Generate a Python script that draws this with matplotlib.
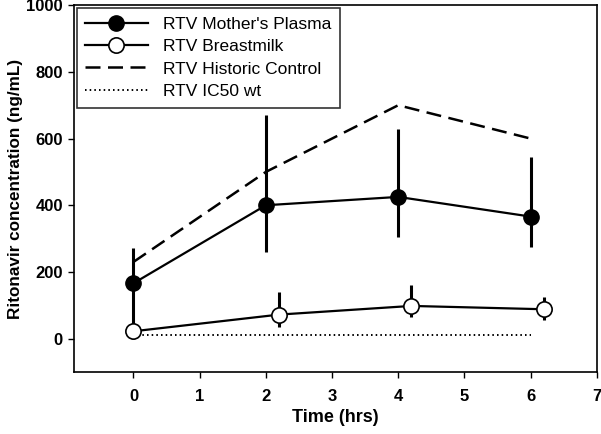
import matplotlib.pyplot as plt

plt.rcParams['font.family'] = ['Liberation Sans', 'DejaVu Sans']

# Mother's plasma
t_plasma = [0, 2, 4, 6]
plasma = [166, 400, 425, 366]
plasma_lo = [0, 261, 306, 276]
plasma_hi = [273, 672, 630, 546]

# Breastmilk (offset slightly in time)
t_milk = [0, 2.2, 4.2, 6.2]
milk = [22, 72, 98, 88]
milk_lo = [22, 36, 66, 57]
milk_hi = [22, 141, 162, 126]

# historic control and IC50
t_hist = [0, 2, 4, 6]
hist = [230, 500, 700, 600]
t_ic50 = [0, 6]
ic50 = [10, 10]

plasma_err = [[v - lo for v, lo in zip(plasma, plasma_lo)],
              [hi - v for v, hi in zip(plasma, plasma_hi)]]
milk_err = [[v - lo for v, lo in zip(milk, milk_lo)],
            [hi - v for v, hi in zip(milk, milk_hi)]]

fig = plt.figure(figsize=(6.01, 4.34), dpi=100)
ax = fig.add_axes([0.123, 0.143, 0.870, 0.845])

ax.errorbar(t_plasma, plasma, yerr=plasma_err, fmt='none', ecolor='black',
            elinewidth=2.2, capsize=0, zorder=2)
ax.errorbar(t_milk, milk, yerr=milk_err, fmt='none', ecolor='black',
            elinewidth=2.2, capsize=0, zorder=2)
h1, = ax.plot(t_plasma, plasma, '-o', color='black', mfc='black', mec='black',
              ms=11, lw=1.6, zorder=3)
h2, = ax.plot(t_milk, milk, '-o', color='black', mfc='white', mec='black',
              ms=11, mew=1.2, lw=1.6, zorder=3)
h3, = ax.plot(t_hist, hist, color='black', lw=1.8, dashes=(6, 3))
h4, = ax.plot(t_ic50, ic50, color='black', lw=1.4, ls=(0, (0.8, 1.6)))

ax.set_xlim(-0.9, 7)
ax.set_ylim(-100, 1000)
ax.set_xticks(range(0, 8))
ax.set_yticks(range(0, 1001, 200))
ax.tick_params(direction='out', length=4, width=1, labelsize=12)
ax.tick_params(axis='y', pad=4)
ax.tick_params(axis='x', pad=8)
for lab in ax.get_xticklabels() + ax.get_yticklabels():
    lab.set_fontweight('bold')
ax.set_xlabel('Time (hrs)', fontsize=13, fontweight='bold')
ax.set_ylabel('Ritonavir concentration (ng/mL)', fontsize=12.3, fontweight='bold')
ax.xaxis.set_label_coords(0.5, -0.10)
ax.yaxis.set_label_coords(-0.097, 0.5)
for s in ax.spines.values():
    s.set_linewidth(1.2)

leg = ax.legend([h1, h2, h3, h4],
                ["RTV Mother's Plasma", 'RTV Breastmilk', 'RTV Historic Control', 'RTV IC50 wt'],
                loc='upper left', fontsize=12.5, frameon=True, fancybox=False,
                edgecolor='black', handlelength=3.6, borderaxespad=0.15,
                labelspacing=0.42, borderpad=0.5, handletextpad=0.9)
leg.get_frame().set_linewidth(1.2)

plt.savefig('out.png')
